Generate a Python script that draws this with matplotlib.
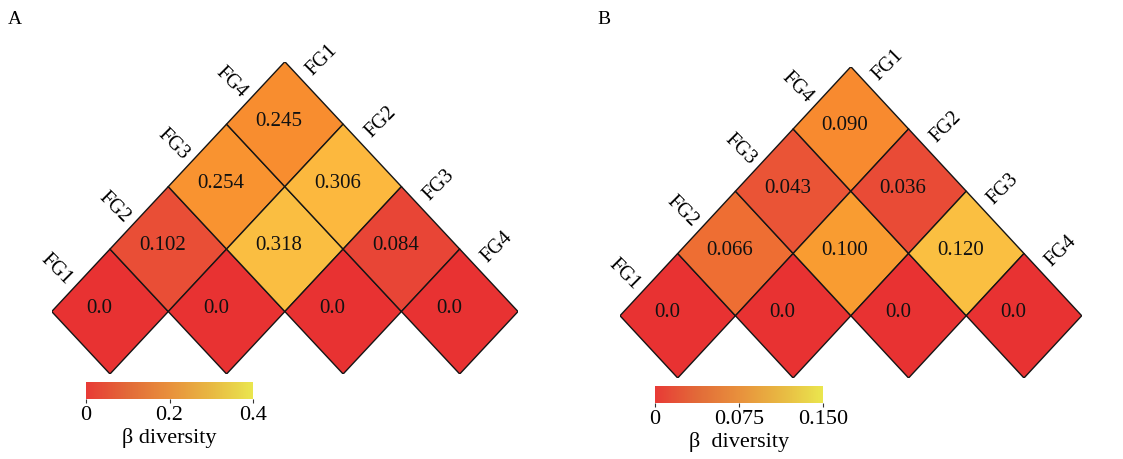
import numpy as np
import matplotlib
matplotlib.use("Agg")
import matplotlib.pyplot as plt
from matplotlib.patches import Polygon
from matplotlib.colors import LinearSegmentedColormap, Normalize
from matplotlib.cm import ScalarMappable

plt.rcParams['font.family'] = ['Liberation Serif', 'DejaVu Serif']

groups = ['FG1', 'FG2', 'FG3', 'FG4']

# pairwise beta diversity between functional groups (upper triangle used)
beta_a = [[0.0, 0.102, 0.254, 0.245],
          [0.102, 0.0, 0.318, 0.306],
          [0.254, 0.318, 0.0, 0.084],
          [0.245, 0.306, 0.084, 0.0]]
beta_b = [[0.0, 0.066, 0.043, 0.090],
          [0.066, 0.0, 0.100, 0.036],
          [0.043, 0.100, 0.0, 0.120],
          [0.090, 0.036, 0.120, 0.0]]

vmax_a = 0.4
vmax_b = 0.15
ticks_a = [0, 0.2, 0.4]
ticklabels_a = ['0', '0.2', '0.4']
ticks_b = [0, 0.075, 0.15]
ticklabels_b = ['0', '0.075', '0.150']

cell_cmap = LinearSegmentedColormap.from_list('cells', [
    (0.0, '#E83232'), (0.2, '#E84436'), (0.3, '#EA5636'),
    (0.45, '#EE7033'), (0.6, '#F88A2F'), (0.66, '#F99A30'),
    (0.77, '#FCB93F'), (1.0, '#EDE84E')])
bar_cmap = LinearSegmentedColormap.from_list('bar', [
    (0.0, '#E83A36'), (0.25, '#E26A38'), (0.5, '#E8903C'),
    (0.75, '#E8B842'), (1.0, '#EAE64E')])


def draw_triangle(ax, mat, vmax):
    norm = Normalize(0, vmax)
    n = len(mat)
    for i in range(n):
        for j in range(i, n):
            cx, cy = i + j + 1, j - i
            verts = [(cx - 1, cy), (cx, cy + 1), (cx + 1, cy), (cx, cy - 1)]
            v = mat[i][j]
            ax.add_patch(Polygon(verts, closed=True, facecolor=cell_cmap(norm(v)),
                                 edgecolor='#151515', linewidth=1.0))
            txt = '0.0' if v == 0 else '%.3f' % v
            dx = -0.18 if v == 0 else -0.1
            ax.text(cx + dx, cy + 0.05, txt, ha='center', va='center',
                    fontsize=15, color='#111111')
    # group names along both upper edges
    for k in range(n):
        ax.text(k + 0.5 - 0.42, k + 0.5 + 0.17, groups[k], rotation=-45,
                ha='center', va='center', fontsize=14.5, clip_on=False)
        ax.text(k + 4.5 + 0.14, 3.5 - k + 0.53, groups[k], rotation=45,
                ha='center', va='center', fontsize=14.5, clip_on=False)
    ax.set_xlim(0, 2 * n)
    ax.set_ylim(-1, n)
    ax.axis('off')


def draw_colorbar(fig, rect, vmax, ticks, labels, title):
    cax = fig.add_axes(rect)
    sm = ScalarMappable(norm=Normalize(0, vmax), cmap=bar_cmap)
    cb = fig.colorbar(sm, cax=cax, orientation='horizontal')
    cb.outline.set_visible(False)
    cb.set_ticks(ticks)
    cb.set_ticklabels(labels)
    cax.tick_params(length=3, width=0.8, color='#333333', labelsize=16, pad=2)
    cb.set_label(title, fontsize=16, labelpad=2)


W, H = 1123, 459
fig = plt.figure(figsize=(W / 100, H / 100), dpi=100)


def px_rect(left, top, right, bottom):
    return [left / W, 1 - bottom / H, (right - left) / W, (bottom - top) / H]


ax_a = fig.add_axes(px_rect(51.7, 61.7, 518, 374))
draw_triangle(ax_a, beta_a, vmax_a)
ax_b = fig.add_axes(px_rect(620, 66.7, 1081.7, 378))
draw_triangle(ax_b, beta_b, vmax_b)

draw_colorbar(fig, px_rect(86, 382, 253, 399), vmax_a, ticks_a, ticklabels_a,
              'β diversity')
draw_colorbar(fig, px_rect(655, 386, 823, 403), vmax_b, ticks_b, ticklabels_b,
              'β  diversity')

fig.text(15 / W, 1 - 20 / H, 'A', fontsize=14, ha='center', va='center')
fig.text(604 / W, 1 - 20 / H, 'B', fontsize=14, ha='center', va='center')

fig.savefig('out.png', dpi=100)
